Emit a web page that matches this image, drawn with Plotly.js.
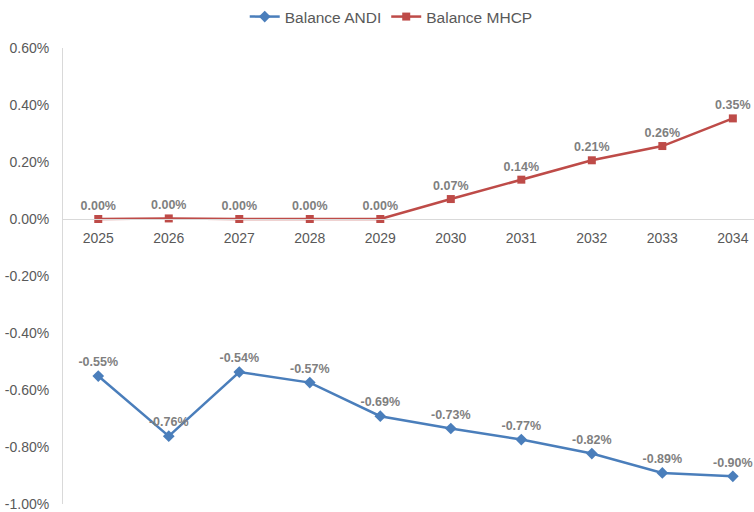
<!DOCTYPE html>
<html>
<head>
<meta charset="utf-8">
<script src="https://cdn.plot.ly/plotly-3.0.1.min.js"></script>
<style>html,body{margin:0;padding:0;background:#fff;}#chart{width:754px;height:512px;}</style>
</head>
<body>
<div id="chart"></div>
<script>
const years = ['2025','2026','2027','2028','2029','2030','2031','2032','2033','2034'];
const balanceANDI = [-0.551, -0.762, -0.537, -0.574, -0.692, -0.735, -0.774, -0.823, -0.891, -0.903];
const balanceMHCP = [0.0, 0.002, 0.0, 0.0, 0.0, 0.07, 0.138, 0.206, 0.256, 0.353];
const yTicks = [0.6, 0.4, 0.2, 0.0, -0.2, -0.4, -0.6, -0.8, -1.0];
const yTickText = yTicks.map(v => v.toFixed(2) + '%');

const font = "'Liberation Sans', Arial, sans-serif";
const traces = [
  {
    x: years, y: balanceANDI, name: 'Balance ANDI', type: 'scatter', mode: 'lines+markers+text',
    line: {color: '#4a7ebb', width: 2.5},
    marker: {symbol: 'diamond', size: 9, color: '#4a7ebb'},
    texttemplate: '%{y:.2f}%', textposition: 'top center',
    textfont: {family: font, size: 12.5, color: '#7f7f7f', weight: 'bold'},
    hoverinfo: 'skip'
  },
  {
    x: years, y: balanceMHCP, name: 'Balance MHCP', type: 'scatter', mode: 'lines+markers+text',
    line: {color: '#be4b48', width: 2.5},
    marker: {symbol: 'square', size: 8, color: '#be4b48'},
    texttemplate: '%{y:.2f}%', textposition: 'top center',
    textfont: {family: font, size: 12.5, color: '#7f7f7f', weight: 'bold'},
    hoverinfo: 'skip'
  }
];

const layout = {
  width: 754, height: 512,
  margin: {l: 63, r: 0, t: 48, b: 8},
  paper_bgcolor: '#fff', plot_bgcolor: '#fff',
  font: {family: font, color: '#595959'},
  showlegend: true,
  legend: {orientation: 'h', x: 0.475, xanchor: 'center', yref: 'container', y: 1, yanchor: 'top',
    font: {family: font, size: 15.5, color: '#595959'}, traceorder: 'normal', itemwidth: 30},
  xaxis: {
    type: 'category', range: [-0.5, 9.3], anchor: 'free', position: 0.625,
    showline: true, linecolor: '#d9d9d9', linewidth: 1,
    showgrid: false, zeroline: false, ticks: '',
    tickfont: {family: font, size: 14, color: '#595959'}, ticklabelstandoff: 6
  },
  yaxis: {
    range: [-1.0, 0.6], tickmode: 'array', tickvals: yTicks, ticktext: yTickText,
    showline: true, linecolor: '#d9d9d9', linewidth: 1,
    showgrid: false, zeroline: false, ticks: '',
    tickfont: {family: font, size: 14, color: '#595959'}, ticklabelstandoff: 10
  }
};

Plotly.newPlot('chart', traces, layout, {displayModeBar: false, staticPlot: true});
</script>
</body>
</html>
